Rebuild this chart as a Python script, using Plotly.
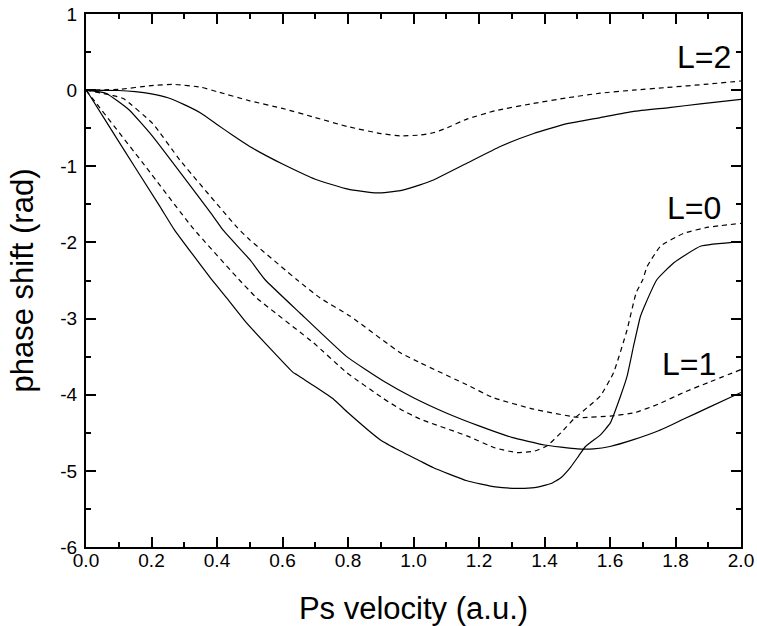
import plotly.graph_objects as go

# L=2
l2_dash_x = [0, 0.1, 0.2, 0.27, 0.35, 0.4, 0.5, 0.6, 0.7, 0.8, 0.9, 0.96, 1.02, 1.06, 1.1, 1.163, 1.25, 1.366, 1.47, 1.57, 1.67, 1.774, 1.9, 2.0]
l2_dash_y = [0, 0.01, 0.06, 0.075, 0.04, -0.02, -0.14, -0.24, -0.36, -0.48, -0.57, -0.6, -0.59, -0.56, -0.5, -0.38, -0.27, -0.175, -0.1, -0.04, 0.0, 0.035, 0.08, 0.12]
l2_sol_x = [0, 0.1, 0.15, 0.2, 0.25, 0.3, 0.35, 0.4, 0.45, 0.5, 0.55, 0.6, 0.7, 0.8, 0.888, 0.96, 1.02, 1.061, 1.163, 1.265, 1.367, 1.469, 1.57, 1.672, 1.78, 1.876, 2.0]
l2_sol_y = [0, -0.005, -0.02, -0.05, -0.1, -0.19, -0.3, -0.45, -0.6, -0.74, -0.86, -0.97, -1.17, -1.3, -1.35, -1.32, -1.245, -1.18, -0.96, -0.74, -0.57, -0.44, -0.36, -0.28, -0.23, -0.18, -0.12]

# L=0
l0_sol_x = [0, 0.01, 0.102, 0.226, 0.27, 0.384, 0.43, 0.491, 0.633, 0.645, 0.756, 0.796, 0.898, 0.96, 1.02, 1.061, 1.163, 1.25, 1.316, 1.37, 1.418, 1.45, 1.48, 1.505, 1.525, 1.545, 1.57, 1.601, 1.632, 1.652, 1.672, 1.693, 1.703, 1.743, 1.794, 1.876, 2.0]
l0_sol_y = [0, -0.06, -0.69, -1.53, -1.835, -2.49, -2.73, -3.06, -3.71, -3.74, -4.06, -4.22, -4.59, -4.74, -4.87, -4.96, -5.13, -5.21, -5.23, -5.22, -5.17, -5.09, -4.95, -4.80, -4.68, -4.61, -4.53, -4.37, -4.02, -3.76, -3.36, -2.97, -2.86, -2.49, -2.27, -2.05, -1.99]
l0_dash_x = [0, 0.031, 0.185, 0.326, 0.476, 0.501, 0.521, 0.695, 0.796, 0.908, 0.96, 1.02, 1.163, 1.25, 1.316, 1.37, 1.408, 1.45, 1.489, 1.53, 1.57, 1.611, 1.652, 1.68, 1.70, 1.713, 1.754, 1.825, 1.9, 2.0]
l0_dash_y = [0, -0.17, -1.02, -1.81, -2.53, -2.64, -2.73, -3.32, -3.71, -4.05, -4.19, -4.32, -4.54, -4.7, -4.76, -4.74, -4.67, -4.50, -4.32, -4.17, -4.02, -3.71, -3.15, -2.66, -2.49, -2.32, -2.05, -1.88, -1.8, -1.75]

# L=1
l1_sol_x = [0, 0.061, 0.132, 0.204, 0.389, 0.418, 0.501, 0.547, 0.654, 0.796, 0.908, 1.0, 1.1, 1.2, 1.3, 1.4, 1.5, 1.55, 1.6, 1.672, 1.75, 1.825, 1.9, 2.0]
l1_sol_y = [0, -0.04, -0.26, -0.61, -1.66, -1.835, -2.23, -2.49, -2.93, -3.50, -3.82, -4.04, -4.24, -4.41, -4.56, -4.66, -4.71, -4.71, -4.68, -4.59, -4.47, -4.32, -4.17, -3.97]
l1_dash_x = [0, 0.081, 0.114, 0.204, 0.287, 0.463, 0.501, 0.644, 0.715, 0.807, 0.96, 1.02, 1.163, 1.244, 1.367, 1.489, 1.519, 1.601, 1.672, 1.75, 1.825, 1.9, 2.0]
l1_dash_y = [0, -0.07, -0.11, -0.44, -0.92, -1.81, -1.97, -2.49, -2.73, -2.97, -3.45, -3.58, -3.87, -4.04, -4.19, -4.29, -4.30, -4.28, -4.24, -4.12, -3.97, -3.84, -3.67]

labels = ["L=2", "L=0", "L=1"]
label_x = [1.975, 1.946, 1.931]
label_y = [0.43, -1.55, -3.60]

y_ticks = [1, 0, -1, -2, -3, -4, -5, -6]

FONT = "Liberation Sans, Arial, sans-serif"

fig = go.Figure()
series = [
    (l2_dash_x, l2_dash_y, "dash"), (l2_sol_x, l2_sol_y, "solid"),
    (l0_sol_x, l0_sol_y, "solid"), (l0_dash_x, l0_dash_y, "dash"),
    (l1_sol_x, l1_sol_y, "solid"), (l1_dash_x, l1_dash_y, "dash"),
]
for xs, ys, d in series:
    fig.add_trace(go.Scatter(
        x=xs, y=ys, mode="lines", showlegend=False, hoverinfo="skip",
        line=dict(color="black", width=1.2, dash="5px,4px" if d == "dash" else "solid",
                  shape="spline", smoothing=0.4),
    ))

for t, x, y in zip(labels, label_x, label_y):
    fig.add_annotation(x=x, y=y, text=t, showarrow=False, xanchor="right", yanchor="middle",
                       font=dict(family=FONT, size=32, color="black"))

axis_common = dict(
    showline=True, linecolor="black", linewidth=2, mirror="allticks",
    ticks="inside", ticklen=10, tickwidth=2, tickcolor="black",
    showgrid=False, zeroline=False, automargin=False, ticklabeloverflow="allow",
    tickfont=dict(family=FONT, size=19, color="black"),
)

fig.update_xaxes(
    range=[0, 2], tickmode="linear", tick0=0, dtick=0.2, tickformat=".1f",
    ticklabelstandoff=-5,
    minor=dict(ticks="inside", ticklen=5, tickwidth=2, tickcolor="black", dtick=0.1, tick0=0, showgrid=False),
    title=dict(text="Ps velocity (a.u.)", font=dict(family=FONT, size=31, color="black"), standoff=28),
    **axis_common,
)
fig.update_yaxes(
    range=[-6, 1], tickmode="array", tickvals=y_ticks, ticktext=[str(v) for v in y_ticks],
    ticklabelstandoff=3,
    minor=dict(ticks="inside", ticklen=5, tickwidth=2, tickcolor="black", dtick=0.5, tick0=0, showgrid=False),
    title=dict(text="phase shift (rad)", font=dict(family=FONT, size=31, color="black"), standoff=17),
    **axis_common,
)

fig.update_layout(
    width=757, height=626,
    margin=dict(l=86, r=16, t=14, b=79),
    plot_bgcolor="white", paper_bgcolor="white",
    font=dict(family=FONT, color="black"),
    hovermode=False,
)

fig.write_html(
    "out.html",
    config={"displayModeBar": False},
    post_script="document.body.style.margin='0px';document.body.style.overflow='hidden';",
)
